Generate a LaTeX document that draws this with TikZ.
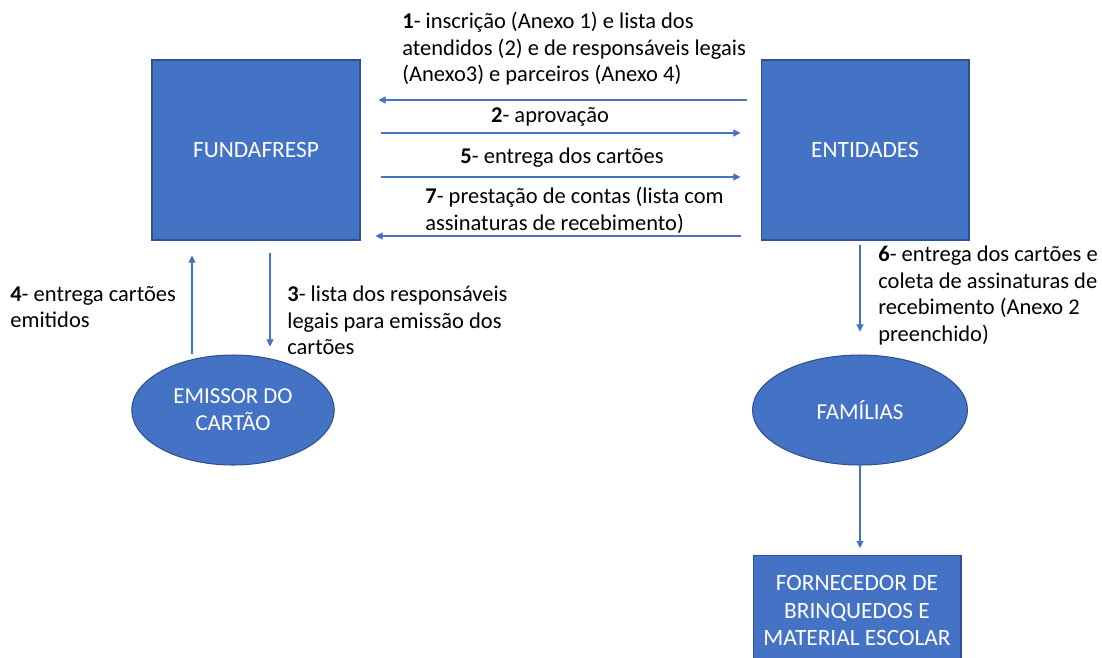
\documentclass[tikz,border=0pt]{standalone}
\usepackage{fontspec}
\setmainfont{Carlito}
\usetikzlibrary{shapes.geometric,arrows.meta}
\definecolor{azul}{HTML}{4472C4}
\definecolor{borda}{HTML}{2F528F}
\tikzset{
  caixa/.style={draw=borda, fill=azul, line width=0.6pt, text=white, align=center,
    font=\fontsize{13.3}{15.4}\selectfont, minimum width=4.16cm, minimum height=3.6cm},
  elipse/.style={ellipse, draw=borda, fill=azul, line width=0.6pt, text=white, align=center,
    font=\fontsize{13}{15.2}\selectfont, minimum width=4.05cm, minimum height=2.2cm},
  seta/.style={draw=azul, line width=0.6pt, -{Triangle[length=4pt,width=4pt]}},
  rotulo/.style={anchor=north west, align=left, inner sep=0pt, font=\fontsize{12.8}{15}\selectfont}
}
\begin{document}
\begin{tikzpicture}[x=0.02cm, y=-0.02cm]
		%%%%% START %%%%%
		
		\clip (0, 0) rectangle (1102, 657);
		\useasboundingbox (0, 0) rectangle (1102, 657);
		
		\node[caixa] (fund) at (256, 150) {FUNDAFRESP};
		\node[caixa] (ent) at (865, 150) {ENTIDADES};
		\node[elipse] (emi) at (233, 410) {EMISSOR DO\\CARTÃO};
		\node[elipse, minimum width=4.3cm] (fam) at (860, 410) {FAMÍLIAS};
		\node[caixa, minimum height=2.2cm, anchor=north] (forn) at (857, 555) {FORNECEDOR DE\\BRINQUEDOS E\\MATERIAL ESCOLAR};
		
		\draw[seta, shorten <=0.28cm, shorten >=0.36cm] (ent.west |- 0, 100) -- (fund.east |- 0, 100);
		\draw[seta, shorten <=0.4cm, shorten >=0.4cm] (fund.east |- 0, 133) -- (ent.west |- 0, 133);
		\draw[seta, shorten <=0.4cm, shorten >=0.4cm] (fund.east |- 0, 177) -- (ent.west |- 0, 177);
		\draw[seta, shorten <=0.4cm, shorten >=0.3cm] (ent.west |- 0, 236) -- (fund.east |- 0, 236);
		
		\draw[seta, shorten >=0.3cm] (emi.north -| 192, 0) -- (fund.south -| 192, 0);
		\draw[seta, shorten <=0.24cm, shorten >=0.16cm] (fund.south -| 270, 0) -- (emi.north -| 270, 0);
		\draw[seta, shorten <=0.08cm, shorten >=0.46cm] (ent.south -| fam.north) -- (fam.north);
		\draw[seta, shorten >=0.14cm] (fam.south) -- (forn.north -| fam.south);
		
		\node[rotulo] (t1) at (402, 12) {\textbf{1}- inscrição (Anexo 1) e lista dos\\atendidos (2) e de responsáveis legais\\(Anexo3) e parceiros (Anexo 4)};
		\node[rotulo, anchor=center] (t2) at (550, 117) {\textbf{2}- aprovação};
		\node[rotulo, anchor=center] (t5) at (562, 158) {\textbf{5}- entrega dos cartões};
		\node[rotulo] (t7) at (425, 187) {\textbf{7}- prestação de contas (lista com\\assinaturas de recebimento)};
		\node[rotulo] (t4) at (10, 286) {\textbf{4}- entrega cartões\\emitidos};
		\node[rotulo] (t3) at (287, 286) {\textbf{3}- lista dos responsáveis\\legais para emissão dos\\cartões};
		\node[rotulo] (t6) at (878, 246) {\textbf{6}- entrega dos cartões e\\coleta de assinaturas de\\recebimento (Anexo 2\\preenchido)};
		
		%%%%% END %%%%%
	\end{tikzpicture}
\end{document}
